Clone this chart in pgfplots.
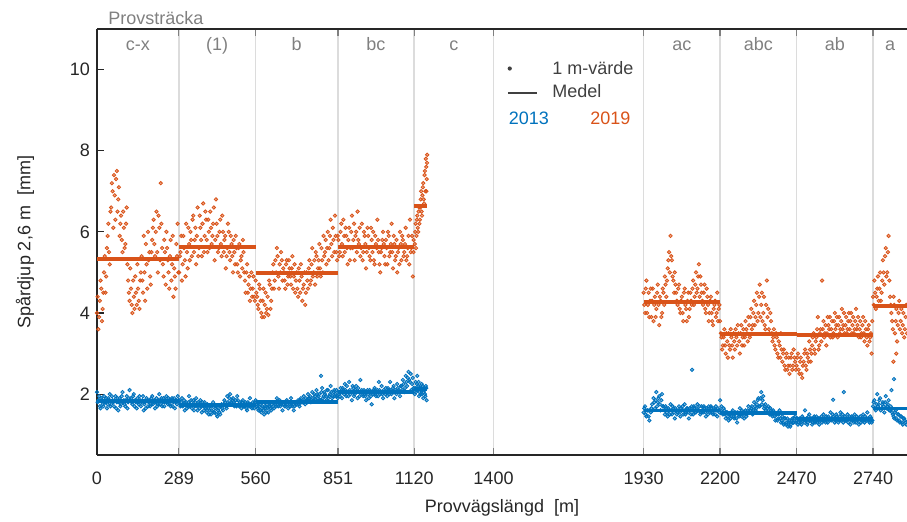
\documentclass[border=0pt]{standalone}
\usepackage{fontspec}
\setmainfont{Liberation Sans}
\usepackage{pgfplots}
\pgfplotsset{compat=1.18}
\definecolor{c13}{HTML}{0072BD}
\definecolor{c19}{HTML}{D95319}
\definecolor{axc}{HTML}{262626}
\definecolor{lab}{HTML}{808080}
\definecolor{gridc}{HTML}{DCDCDC}
\definecolor{legc}{HTML}{404040}
\pgfplotsset{
  pts19/.style={only marks, forget plot, c19, mark=*, mark size=0.85pt, mark options={draw=none, fill=c19, fill opacity=0.5}},
  pts13/.style={only marks, forget plot, c13, mark=*, mark size=0.85pt, mark options={draw=none, fill=c13, fill opacity=0.5}},
}
\begin{document}
\begin{tikzpicture}[font=\fontsize{9}{11}\selectfont]
\begin{axis}[
  scale only axis, width=405pt, height=213pt,
  xmin=0, xmax=2860, ymin=0.5, ymax=11,
  clip=false,
  axis x line=box, axis y line=left,
  axis line style={-, axc, line width=0.6pt},
  xtick={0,289,560,851,1120,1400,1930,2200,2470,2740},
  ytick={2,4,6,8,10},
  xmajorgrids, major grid style={gridc, line width=0.8pt},
  tick align=inside, major tick length=3.5pt,
  xtick style={lab, line width=0.6pt}, ytick style={axc, line width=0.6pt},
  /pgf/number format/assume math mode=true,
  /pgf/number format/1000 sep={},
  tick label style={axc, font=\fontsize{9}{11}\selectfont},
  xticklabel style={yshift=-5pt},
  xlabel={Provvägslängd\ \ [m]}, ylabel={Spårdjup 2,6 m\ \ [mm]},
  every axis x label/.style={at={(axis description cs:0.5,0)}, yshift=-26.5pt, anchor=center, axc},
  every axis y label/.style={at={(axis description cs:0,0.5)}, xshift=-36pt, rotate=90, anchor=center, axc},
  legend style={at={(axis cs:1448,10.22)}, anchor=north west, draw=none, fill=none, text=legc,
    font=\fontsize{9}{11}\selectfont, inner sep=0pt, outer sep=0pt, row sep=2pt,
    nodes={inner sep=0.5pt, text height=6.5pt, text depth=2pt},
    /tikz/every odd column/.append style={column sep=7pt}},
  legend cell align=left,
]
% 2019 one-metre values (sampled, pass 1)
\addplot[pts19] coordinates {
(0,4.0)(5,3.6)(10,4.3)(15,4.6)(20,4.1)(25,5.0)(30,4.5)(35,5.6)(40,6.2)(45,5.2)(50,6.6)(55,7.0)(60,7.4)(65,6.3)(70,7.5)(75,6.8)(80,5.9)(85,6.4)(90,5.5)(95,6.1)(100,5.7)(105,6.6)
(110,4.8)(115,4.3)(120,4.6)(125,4.0)(130,4.4)(135,4.9)(140,4.2)(145,4.6)(150,4.1)(155,5.0)(160,4.8)(165,5.9)(170,4.3)(175,5.2)(180,6.0)(185,5.5)(190,4.7)(195,5.8)(200,6.3)(205,5.4)(210,6.5)(215,5.0)(220,6.1)(225,7.2)(230,5.6)(235,4.9)(240,5.5)(245,6.0)(250,5.3)(255,4.6)(260,5.8)(265,5.2)(270,4.4)(275,4.9)(280,5.7)(285,6.2)
(290,5.0)(295,5.5)(300,4.8)(305,5.9)(310,5.3)(315,6.2)(320,5.1)(325,5.7)(330,6.0)(335,5.4)(340,6.4)(345,5.8)(350,5.2)(355,6.6)(360,5.6)(365,6.1)(370,5.4)(375,6.7)(380,5.9)(385,6.3)(390,5.5)(395,6.0)(400,6.5)(405,5.7)(410,6.2)(415,5.3)(420,6.8)(425,5.9)(430,5.6)(435,6.3)(440,5.4)(445,6.0)(450,5.8)(455,5.1)(460,5.6)(465,6.0)(470,5.3)(475,5.7)(480,5.0)(485,5.5)(490,5.9)(495,5.2)(500,5.6)(505,4.9)(510,5.4)(515,5.8)(520,5.0)(525,4.5)(530,5.2)(535,4.7)(540,4.3)(545,5.0)(550,4.6)(555,4.4)
(560,4.8)(565,4.4)(570,4.1)(575,4.6)(580,4.0)(585,4.3)(590,3.9)(595,4.5)(600,4.1)(605,3.95)(610,4.7)(615,4.3)(620,5.0)(625,4.6)(630,5.3)(635,5.6)(640,4.9)(645,5.2)(650,5.5)(655,4.8)(660,5.0)(665,4.6)(670,5.3)(675,4.9)(680,5.1)(685,4.7)(690,5.4)(695,4.9)(700,4.5)(705,5.0)(710,4.4)(715,4.8)(720,5.2)(725,4.3)(730,4.7)(735,4.2)(740,5.0)(745,4.6)(750,5.3)(755,4.8)(760,5.6)(765,5.0)(770,4.7)(775,5.4)(780,5.1)(785,5.7)(790,4.9)(795,5.3)(800,5.9)(805,5.5)(810,5.2)(815,6.0)(820,5.6)(825,6.3)(830,5.4)(835,5.8)(840,6.4)(845,5.5)(850,5.9)
(855,5.4)(860,6.0)(865,5.7)(870,6.3)(875,5.5)(880,5.9)(885,5.2)(890,6.1)(895,5.6)(900,6.4)(905,5.8)(910,5.3)(915,6.0)(920,6.5)(925,5.7)(930,5.4)(935,6.2)(940,5.5)(945,5.9)(950,5.1)(955,6.1)(960,5.6)(965,5.3)(970,5.8)(975,6.0)(980,5.2)(985,5.7)(990,6.3)(995,5.5)(1000,5.0)(1005,5.6)(1010,6.0)(1015,5.4)(1020,5.8)(1025,5.2)(1030,5.9)(1035,5.5)(1040,6.2)(1045,5.1)(1050,5.7)(1055,5.4)(1060,5.0)(1065,5.6)(1070,6.0)(1075,5.3)(1080,5.8)(1085,5.5)(1090,6.1)(1095,5.4)(1100,5.9)(1105,6.3)(1110,5.6)(1115,4.9)(1118,5.8)
(1122,5.7)(1125,6.2)(1128,5.9)(1131,6.4)(1134,6.0)(1137,6.6)(1140,6.3)(1143,6.8)(1146,6.5)(1149,6.9)(1152,7.2)(1155,6.7)(1158,7.5)(1161,7.8)(1163,7.0)(1164,7.3)(1166,7.9)
(1930,4.5)(1935,4.0)(1940,4.8)(1945,4.2)(1950,3.9)(1955,4.6)(1960,4.3)(1965,3.8)(1970,4.4)(1975,4.1)(1980,4.7)(1985,3.7)(1990,4.3)(1995,4.0)(2000,4.5)(2005,4.9)(2010,4.4)(2015,5.1)(2020,5.5)(2025,5.9)(2030,5.3)(2035,4.8)(2040,5.0)(2045,4.5)(2050,4.2)(2055,4.7)(2060,4.0)(2065,4.4)(2070,3.8)(2075,4.6)(2080,4.1)(2085,4.3)(2090,3.9)(2095,4.5)(2100,4.2)(2105,4.8)(2110,4.4)(2115,5.0)(2120,4.6)(2125,5.2)(2130,4.9)(2135,4.5)(2140,4.2)(2145,4.7)(2150,4.0)(2155,4.4)(2160,3.8)(2165,4.3)(2170,4.0)(2175,3.7)(2180,4.2)(2185,3.9)(2190,4.5)(2195,4.1)
(2200,3.8)(2205,3.4)(2210,3.2)(2215,3.6)(2220,3.0)(2225,3.3)(2230,3.5)(2235,3.1)(2240,3.4)(2245,2.9)(2250,3.3)(2255,3.6)(2260,3.2)(2265,3.5)(2270,3.0)(2275,3.7)(2280,3.4)(2285,3.2)(2290,3.8)(2295,3.5)(2300,3.9)(2305,3.4)(2310,4.1)(2315,3.7)(2320,4.3)(2325,3.9)(2330,4.5)(2335,4.0)(2340,4.7)(2345,4.2)(2350,3.8)(2355,4.4)(2360,3.6)(2365,4.8)(2370,4.1)(2375,3.5)(2380,3.8)(2385,3.3)(2390,3.6)(2395,3.1)(2400,3.4)(2405,2.9)(2410,3.2)(2415,3.5)(2420,2.8)(2425,3.1)(2430,2.6)(2435,3.0)(2440,2.7)(2445,2.5)(2450,2.9)(2455,2.6)(2460,3.1)(2465,2.8)
(2470,2.7)(2475,3.0)(2480,2.5)(2485,2.9)(2490,2.4)(2495,2.8)(2500,3.1)(2505,2.6)(2510,2.9)(2515,3.3)(2520,2.8)(2525,3.2)(2530,3.5)(2535,3.0)(2540,3.4)(2545,3.9)(2550,3.2)(2555,3.6)(2560,4.8)(2565,3.8)(2570,3.5)(2575,3.2)(2580,3.9)(2585,3.6)(2590,3.4)(2595,3.8)(2600,3.5)(2605,4.0)(2610,3.7)(2615,3.4)(2620,3.9)(2625,3.6)(2630,4.1)(2635,3.7)(2640,3.5)(2645,3.9)(2650,3.6)(2655,4.0)(2660,3.8)(2665,3.5)(2670,3.9)(2675,3.6)(2680,4.1)(2685,3.7)(2690,3.4)(2695,3.8)(2700,3.5)(2705,3.9)(2710,3.3)(2715,3.6)(2720,3.2)(2725,3.7)(2730,3.4)(2735,3.0)
(2740,4.4)(2745,4.8)(2750,4.1)(2755,4.6)(2760,4.3)(2765,5.0)(2770,4.5)(2775,5.3)(2780,4.7)(2785,5.6)(2790,5.0)(2795,5.9)(2800,4.4)(2805,4.0)(2810,3.6)(2812,2.8)(2815,4.2)(2820,3.8)(2822,3.0)(2825,3.3)(2830,4.0)(2835,3.6)(2840,4.1)(2845,3.7)(2850,3.4)(2855,3.9)(2860,3.5)
};
% 2019 one-metre values (sampled, pass 2)
\addplot[pts19] coordinates {
(2.5,4.4)(7.5,3.9)(12.5,4.8)(17.5,3.8)(22.5,4.5)(27.5,5.4)(32.5,4.9)(37.5,5.9)(42.5,5.5)(47.5,6.5)(52.5,7.2)(57.5,6.1)(62.5,6.9)(67.5,7.3)(72.5,6.5)(77.5,7.1)(82.5,6.2)(87.5,5.8)(92.5,6.5)(97.5,5.6)(102.5,6.2)(107.5,5.2)(112.5,4.5)(117.5,5.1)(122.5,4.2)(127.5,4.8)(132.5,4.1)(137.5,4.5)(142.5,5.2)(147.5,4.3)(152.5,4.8)(157.5,5.4)(162.5,4.5)(167.5,5.0)(172.5,5.7)(177.5,4.6)(182.5,5.3)(187.5,4.9)(192.5,5.5)(197.5,6.1)(202.5,5.7)(207.5,6.0)(212.5,5.5)(217.5,6.4)(222.5,5.3)(227.5,6.2)(232.5,5.2)(237.5,5.8)(242.5,4.7)(247.5,5.6)(252.5,5.0)(257.5,5.4)(262.5,4.8)(267.5,5.9)(272.5,5.1)(277.5,4.6)(282.5,5.4)(287.5,5.0)
(292.5,5.4)(297.5,5.9)(302.5,5.2)(307.5,5.6)(312.5,4.9)(317.5,5.5)(322.5,6.1)(327.5,5.3)(332.5,5.8)(337.5,6.3)(342.5,5.5)(347.5,6.1)(352.5,5.9)(357.5,5.4)(362.5,6.4)(367.5,5.8)(372.5,6.2)(377.5,5.5)(382.5,6.5)(387.5,5.8)(392.5,6.3)(397.5,5.6)(402.5,6.1)(407.5,5.9)(412.5,6.6)(417.5,5.8)(422.5,6.2)(427.5,5.5)(432.5,6.0)(437.5,5.7)(442.5,6.4)(447.5,5.5)(452.5,5.9)(457.5,5.4)(462.5,6.2)(467.5,5.5)(472.5,5.9)(477.5,5.4)(482.5,5.8)(487.5,5.2)(492.5,5.6)(497.5,5.0)(502.5,5.7)(507.5,5.3)(512.5,5.1)(517.5,5.5)(522.5,4.8)(527.5,5.0)(532.5,4.5)(537.5,4.9)(542.5,4.6)(547.5,4.4)(552.5,4.9)(557.5,4.3)
(562.5,4.5)(567.5,4.2)(572.5,4.7)(577.5,4.3)(582.5,3.9)(587.5,4.6)(592.5,4.2)(597.5,4.0)(602.5,4.4)(607.5,4.8)(612.5,4.1)(617.5,4.6)(622.5,5.2)(627.5,4.8)(632.5,5.0)(637.5,5.4)(642.5,4.6)(647.5,5.0)(652.5,5.3)(657.5,5.1)(662.5,4.8)(667.5,5.2)(672.5,4.7)(677.5,5.3)(682.5,4.9)(687.5,5.1)(692.5,4.6)(697.5,5.2)(702.5,4.8)(707.5,4.6)(712.5,5.1)(717.5,4.5)(722.5,4.9)(727.5,4.6)(732.5,5.0)(737.5,4.5)(742.5,4.8)(747.5,5.1)(752.5,4.7)(757.5,5.2)(762.5,4.9)(767.5,5.3)(772.5,5.5)(777.5,4.9)(782.5,5.3)(787.5,5.1)(792.5,5.6)(797.5,5.0)(802.5,5.4)(807.5,5.8)(812.5,5.6)(817.5,5.3)(822.5,5.9)(827.5,5.7)(832.5,6.1)(837.5,5.5)(842.5,5.9)(847.5,5.3)
(852.5,5.8)(857.5,5.5)(862.5,6.2)(867.5,5.4)(872.5,5.9)(877.5,6.1)(882.5,5.6)(887.5,5.8)(892.5,5.3)(897.5,6.0)(902.5,5.6)(907.5,6.2)(912.5,5.9)(917.5,5.5)(922.5,5.8)(927.5,6.1)(932.5,5.6)(937.5,5.3)(942.5,6.0)(947.5,5.7)(952.5,5.5)(957.5,5.9)(962.5,5.4)(967.5,6.1)(972.5,5.5)(977.5,5.3)(982.5,5.9)(987.5,5.6)(992.5,5.8)(997.5,5.2)(1002.5,5.5)(1007.5,5.8)(1012.5,5.7)(1017.5,5.2)(1022.5,5.6)(1027.5,6.0)(1032.5,5.4)(1037.5,5.7)(1042.5,5.5)(1047.5,5.9)(1052.5,5.3)(1057.5,5.8)(1062.5,5.5)(1067.5,5.2)(1072.5,5.7)(1077.5,5.9)(1082.5,5.4)(1087.5,5.7)(1092.5,5.3)(1097.5,5.6)(1102.5,5.2)(1107.5,5.5)(1112.5,5.9)(1117.5,5.5)
(1123.5,6.0)(1126.5,5.6)(1129.5,6.3)(1132.5,6.1)(1135.5,6.5)(1138.5,6.2)(1141.5,6.6)(1144.5,7.0)(1147.5,6.4)(1150.5,7.1)(1153.5,6.8)(1156.5,7.4)(1159.5,7.0)(1162.5,7.6)(1165.5,7.7)
(1932.5,4.2)(1937.5,4.6)(1942.5,4.0)(1947.5,4.5)(1952.5,4.3)(1957.5,3.9)(1962.5,4.6)(1967.5,4.2)(1972.5,3.9)(1977.5,4.5)(1982.5,4.2)(1987.5,4.4)(1992.5,3.9)(1997.5,4.6)(2002.5,4.2)(2007.5,4.7)(2012.5,4.8)(2017.5,5.3)(2022.5,5.0)(2027.5,5.4)(2032.5,4.9)(2037.5,4.5)(2042.5,4.7)(2047.5,4.3)(2052.5,4.6)(2057.5,4.1)(2062.5,4.3)(2067.5,4.0)(2072.5,4.5)(2077.5,4.2)(2082.5,3.8)(2087.5,4.5)(2092.5,4.1)(2097.5,4.3)(2102.5,4.6)(2107.5,4.2)(2112.5,4.7)(2117.5,4.5)(2122.5,4.9)(2127.5,4.4)(2132.5,4.7)(2137.5,4.3)(2142.5,4.5)(2147.5,4.1)(2152.5,4.6)(2157.5,4.2)(2162.5,4.0)(2167.5,4.4)(2172.5,3.8)(2177.5,4.1)(2182.5,4.3)(2187.5,4.0)(2192.5,3.8)(2197.5,4.2)
(2202.5,3.5)(2207.5,3.1)(2212.5,3.4)(2217.5,3.2)(2222.5,3.5)(2227.5,2.9)(2232.5,3.2)(2237.5,3.6)(2242.5,3.2)(2247.5,3.5)(2252.5,3.1)(2257.5,3.4)(2262.5,3.7)(2267.5,3.3)(2272.5,3.5)(2277.5,3.2)(2282.5,3.6)(2287.5,3.4)(2292.5,3.6)(2297.5,3.3)(2302.5,3.7)(2307.5,3.9)(2312.5,3.6)(2317.5,4.0)(2322.5,3.7)(2327.5,4.2)(2332.5,3.8)(2337.5,4.4)(2342.5,3.9)(2347.5,4.5)(2352.5,4.0)(2357.5,3.7)(2362.5,4.2)(2367.5,3.9)(2372.5,3.6)(2377.5,4.0)(2382.5,3.5)(2387.5,3.4)(2392.5,3.2)(2397.5,3.5)(2402.5,3.0)(2407.5,3.3)(2412.5,2.9)(2417.5,3.1)(2422.5,3.0)(2427.5,2.7)(2432.5,2.9)(2437.5,2.6)(2442.5,2.9)(2447.5,2.7)(2452.5,3.0)(2457.5,2.7)(2462.5,2.9)(2467.5,2.6)
(2472.5,2.9)(2477.5,2.6)(2482.5,2.8)(2487.5,2.5)(2492.5,2.7)(2497.5,3.0)(2502.5,2.7)(2507.5,3.0)(2512.5,2.8)(2517.5,3.1)(2522.5,3.0)(2527.5,3.4)(2532.5,3.1)(2537.5,3.3)(2542.5,3.6)(2547.5,3.1)(2552.5,3.5)(2557.5,3.3)(2562.5,3.6)(2567.5,3.4)(2572.5,3.7)(2577.5,3.5)(2582.5,3.7)(2587.5,3.9)(2592.5,3.6)(2597.5,3.4)(2602.5,3.8)(2607.5,3.6)(2612.5,3.9)(2617.5,3.7)(2622.5,3.5)(2627.5,3.8)(2632.5,3.6)(2637.5,4.0)(2642.5,3.7)(2647.5,3.5)(2652.5,3.8)(2657.5,3.6)(2662.5,4.0)(2667.5,3.7)(2672.5,3.5)(2677.5,3.8)(2682.5,3.6)(2687.5,3.9)(2692.5,3.6)(2697.5,3.4)(2702.5,3.7)(2707.5,3.5)(2712.5,3.8)(2717.5,3.4)(2722.5,3.6)(2727.5,3.3)(2732.5,3.5)(2737.5,3.8)
(2742.5,4.2)(2747.5,4.5)(2752.5,4.4)(2757.5,4.9)(2762.5,4.6)(2767.5,4.3)(2772.5,4.8)(2777.5,5.0)(2782.5,5.4)(2787.5,4.9)(2792.5,5.5)(2797.5,4.8)(2802.5,4.2)(2807.5,3.8)(2812.5,4.4)(2817.5,3.5)(2822.5,4.1)(2827.5,3.7)(2832.5,4.3)(2837.5,3.8)(2842.5,3.5)(2847.5,4.0)(2852.5,3.6)(2857.5,4.2)
};
% 2013 one-metre values (sampled, pass 1)
\addplot[pts13] coordinates {
(0,2.05)(5,1.85)(10,1.7)(15,1.9)(20,1.75)(25,1.95)(30,1.8)(35,1.65)(40,1.9)(45,2.0)(50,1.75)(55,1.85)(60,1.7)(65,1.95)(70,1.8)(75,1.6)(80,1.9)(85,1.75)(90,2.05)(95,1.85)(100,1.7)(105,1.95)(110,1.8)(115,2.1)(120,1.9)(125,1.75)(130,2.0)(135,1.85)(140,1.65)(145,1.8)(150,1.95)(155,1.7)(160,1.85)(165,1.6)(170,1.8)(175,1.9)(180,1.7)(185,1.85)(190,1.75)(195,1.95)(200,1.8)(205,1.65)(210,1.9)(215,1.75)(220,2.0)(225,1.85)(230,1.7)(235,1.9)(240,1.8)(245,1.95)(250,1.75)(255,1.85)(260,1.7)(265,1.9)(270,1.8)(275,1.65)(280,1.85)(285,1.95)
(290,1.85)(295,1.7)(300,1.9)(305,1.75)(310,1.6)(315,1.8)(320,1.7)(325,1.95)(330,1.75)(335,1.65)(340,1.85)(345,1.7)(350,1.9)(355,1.6)(360,1.75)(365,1.85)(370,1.55)(375,1.7)(380,1.8)(385,1.65)(390,1.75)(395,1.5)(400,1.7)(405,1.6)(410,1.8)(415,1.55)(420,1.7)(425,1.45)(430,1.65)(435,1.5)(440,1.75)(445,1.6)(450,1.85)(455,1.7)(460,1.95)(465,1.75)(470,2.0)(475,1.8)(480,1.9)(485,1.7)(490,1.85)(495,1.95)(500,1.75)(505,1.8)(510,1.65)(515,1.85)(520,1.7)(525,1.8)(530,1.6)(535,1.75)(540,1.9)(545,1.7)(550,1.8)(555,1.65)
(560,1.85)(565,1.7)(570,1.6)(575,1.75)(580,1.55)(585,1.7)(590,1.5)(595,1.65)(600,1.75)(605,1.55)(610,1.7)(615,1.6)(620,1.8)(625,1.65)(630,1.75)(635,1.9)(640,1.7)(645,1.85)(650,1.75)(655,1.6)(660,1.8)(665,1.7)(670,1.85)(675,1.65)(680,1.75)(685,1.9)(690,1.7)(695,1.6)(700,1.8)(705,1.75)(710,1.85)(715,1.7)(720,1.9)(725,1.8)(730,1.95)(735,1.75)(740,1.85)(745,2.0)(750,1.9)(755,1.8)(760,2.05)(765,1.85)(770,1.95)(775,2.1)(780,1.9)(785,2.0)(790,1.85)(791,2.45)(795,2.15)(800,1.95)(805,2.0)(810,1.85)(815,2.1)(820,1.95)(825,2.2)(830,1.9)(835,2.05)(840,1.95)(845,2.1)(850,1.9)
(855,2.0)(860,2.15)(865,1.9)(870,2.1)(875,2.25)(880,1.95)(885,2.05)(890,2.3)(895,2.0)(900,1.85)(905,2.15)(910,2.0)(915,2.2)(920,1.9)(925,2.05)(930,2.35)(935,2.1)(940,1.95)(945,2.0)(950,1.85)(955,2.1)(960,1.9)(965,2.05)(970,1.75)(975,2.0)(980,2.15)(985,1.95)(990,2.1)(995,2.3)(1000,2.0)(1005,2.2)(1010,1.9)(1015,2.05)(1020,2.15)(1025,1.95)(1030,2.1)(1035,2.3)(1040,2.0)(1045,2.15)(1050,1.9)(1055,2.05)(1060,2.25)(1065,2.1)(1070,1.95)(1075,2.2)(1080,2.35)(1085,2.05)(1090,2.45)(1095,2.2)(1100,2.55)(1105,2.3)(1110,2.1)(1115,2.4)
(1122,2.0)(1125,2.3)(1128,2.1)(1131,2.45)(1134,2.2)(1137,1.95)(1140,2.15)(1143,2.0)(1146,2.25)(1149,2.1)(1152,1.9)(1155,2.15)(1158,2.0)(1161,2.2)(1164,1.85)
(1930,1.55)(1935,1.7)(1940,1.45)(1945,1.6)(1950,1.35)(1955,1.55)(1960,1.75)(1965,1.9)(1970,1.65)(1975,2.05)(1980,1.8)(1985,1.95)(1990,1.6)(1995,2.0)(2000,1.7)(2005,1.5)(2010,1.65)(2015,1.45)(2020,1.6)(2025,1.75)(2030,1.5)(2035,1.65)(2040,1.4)(2045,1.6)(2050,1.55)(2055,1.7)(2060,1.45)(2065,1.6)(2070,1.5)(2075,1.75)(2080,1.55)(2085,1.65)(2090,1.4)(2095,1.6)(2100,1.7)(2101,2.6)(2105,1.5)(2110,1.65)(2115,1.55)(2120,1.75)(2125,1.6)(2130,1.5)(2135,1.7)(2140,1.55)(2145,1.65)(2150,1.45)(2155,1.6)(2160,1.7)(2165,1.55)(2170,1.65)(2175,1.5)(2180,1.6)(2185,1.7)(2190,1.45)(2195,1.6)
(2200,1.85)(2205,1.7)(2210,1.5)(2215,1.6)(2220,1.4)(2225,1.55)(2230,1.35)(2235,1.5)(2240,1.45)(2245,1.6)(2250,1.4)(2255,1.55)(2260,1.3)(2265,1.5)(2270,1.65)(2275,1.45)(2280,1.55)(2285,1.4)(2290,1.6)(2295,1.5)(2300,1.7)(2305,1.55)(2310,1.65)(2315,1.5)(2320,1.8)(2325,1.6)(2330,1.75)(2335,1.9)(2340,1.7)(2345,2.05)(2350,1.85)(2355,1.65)(2360,1.75)(2365,1.55)(2370,1.7)(2375,1.5)(2380,1.6)(2385,1.45)(2390,1.55)(2395,1.35)(2400,1.5)(2405,1.4)(2410,1.6)(2415,1.3)(2420,1.45)(2425,1.25)(2430,1.4)(2435,1.3)(2440,1.2)(2445,1.35)(2450,1.25)(2455,1.4)(2460,1.3)(2465,1.45)
(2470,1.35)(2475,1.25)(2480,1.4)(2485,1.3)(2490,1.45)(2495,1.35)(2500,1.6)(2505,1.4)(2510,1.3)(2515,1.5)(2520,1.35)(2525,1.25)(2530,1.4)(2535,1.3)(2540,1.45)(2545,1.35)(2550,1.25)(2555,1.4)(2560,1.3)(2565,1.5)(2570,1.35)(2575,1.45)(2580,1.3)(2585,1.4)(2590,1.55)(2595,1.35)(2599,1.86)(2600,1.45)(2605,1.3)(2610,1.5)(2615,1.4)(2620,1.35)(2625,1.55)(2630,1.4)(2635,1.3)(2637,2.05)(2640,1.45)(2645,1.35)(2650,1.5)(2655,1.4)(2660,1.25)(2665,1.45)(2670,1.35)(2675,1.5)(2680,1.3)(2685,1.4)(2690,1.25)(2695,1.45)(2700,1.35)(2705,1.5)(2710,1.3)(2715,1.4)(2720,1.55)(2725,1.35)(2730,1.45)(2735,1.3)
(2740,1.7)(2745,1.85)(2750,1.6)(2755,2.0)(2760,1.75)(2765,1.9)(2770,1.65)(2775,1.8)(2780,1.55)(2785,1.95)(2790,1.7)(2795,1.85)(2800,1.6)(2805,2.1)(2810,1.5)(2814,2.37)(2815,1.4)(2820,1.6)(2825,1.35)(2830,1.5)(2835,1.3)(2840,1.45)(2845,1.25)(2850,1.4)(2855,1.3)
};
% 2013 one-metre values (sampled, pass 2)
\addplot[pts13] coordinates {
(2.5,1.8)(7.5,1.95)(12.5,1.65)(17.5,1.85)(22.5,1.7)(27.5,1.8)(32.5,1.9)(37.5,1.75)(42.5,1.85)(47.5,1.7)(52.5,1.95)(57.5,1.8)(62.5,1.85)(67.5,1.65)(72.5,1.9)(77.5,1.8)(82.5,1.7)(87.5,1.95)(92.5,1.8)(97.5,1.75)(102.5,1.85)(107.5,1.65)(112.5,1.9)(117.5,1.85)(122.5,1.8)(127.5,1.95)(132.5,1.7)(137.5,1.8)(142.5,1.9)(147.5,1.75)(152.5,1.85)(157.5,1.8)(162.5,1.95)(167.5,1.75)(172.5,1.65)(177.5,1.85)(182.5,1.8)(187.5,1.7)(192.5,1.9)(197.5,1.75)(202.5,1.85)(207.5,1.8)(212.5,1.7)(217.5,1.85)(222.5,1.75)(227.5,1.9)(232.5,1.8)(237.5,1.7)(242.5,1.85)(247.5,1.8)(252.5,1.9)(257.5,1.75)(262.5,1.85)(267.5,1.7)(272.5,1.9)(277.5,1.8)(282.5,1.75)(287.5,1.85)
(292.5,1.75)(297.5,1.8)(302.5,1.7)(307.5,1.85)(312.5,1.75)(317.5,1.65)(322.5,1.8)(327.5,1.7)(332.5,1.85)(337.5,1.75)(342.5,1.6)(347.5,1.8)(352.5,1.7)(357.5,1.8)(362.5,1.65)(367.5,1.7)(372.5,1.8)(377.5,1.6)(382.5,1.7)(387.5,1.55)(392.5,1.65)(397.5,1.6)(402.5,1.5)(407.5,1.7)(412.5,1.55)(417.5,1.65)(422.5,1.5)(427.5,1.6)(432.5,1.55)(437.5,1.7)(442.5,1.65)(447.5,1.75)(452.5,1.8)(457.5,1.65)(462.5,1.8)(467.5,1.9)(472.5,1.75)(477.5,1.85)(482.5,1.8)(487.5,1.75)(492.5,1.7)(497.5,1.85)(502.5,1.7)(507.5,1.75)(512.5,1.8)(517.5,1.7)(522.5,1.75)(527.5,1.65)(532.5,1.8)(537.5,1.7)(542.5,1.75)(547.5,1.65)(552.5,1.75)(557.5,1.8)
(562.5,1.75)(567.5,1.65)(572.5,1.7)(577.5,1.6)(582.5,1.65)(587.5,1.6)(592.5,1.7)(597.5,1.55)(602.5,1.65)(607.5,1.7)(612.5,1.65)(617.5,1.75)(622.5,1.7)(627.5,1.8)(632.5,1.7)(637.5,1.75)(642.5,1.8)(647.5,1.7)(652.5,1.8)(657.5,1.75)(662.5,1.7)(667.5,1.8)(672.5,1.75)(677.5,1.8)(682.5,1.7)(687.5,1.8)(692.5,1.75)(697.5,1.7)(702.5,1.75)(707.5,1.8)(712.5,1.75)(717.5,1.85)(722.5,1.8)(727.5,1.85)(732.5,1.8)(737.5,1.9)(742.5,1.8)(747.5,1.9)(752.5,1.95)(757.5,1.85)(762.5,1.9)(767.5,2.0)(772.5,1.85)(777.5,2.0)(782.5,1.95)(787.5,1.85)(792.5,2.05)(797.5,1.9)(802.5,2.05)(807.5,1.95)(812.5,2.1)(817.5,1.9)(822.5,2.0)(827.5,2.05)(832.5,1.95)(837.5,2.1)(842.5,2.0)(847.5,1.95)
(852.5,2.05)(857.5,1.95)(862.5,2.05)(867.5,2.15)(872.5,2.0)(877.5,2.1)(882.5,2.2)(887.5,1.95)(892.5,2.1)(897.5,2.05)(902.5,2.2)(907.5,1.95)(912.5,2.1)(917.5,2.05)(922.5,2.15)(927.5,1.95)(932.5,2.05)(937.5,2.0)(942.5,2.1)(947.5,1.95)(952.5,2.05)(957.5,2.0)(962.5,2.1)(967.5,1.95)(972.5,2.05)(977.5,2.1)(982.5,2.0)(987.5,2.05)(992.5,1.95)(997.5,2.1)(1002.5,2.05)(1007.5,2.0)(1012.5,2.1)(1017.5,2.0)(1022.5,2.05)(1027.5,2.15)(1032.5,2.0)(1037.5,2.1)(1042.5,2.05)(1047.5,2.2)(1052.5,2.1)(1057.5,2.0)(1062.5,2.15)(1067.5,2.05)(1072.5,2.2)(1077.5,2.1)(1082.5,2.25)(1087.5,2.15)(1092.5,2.3)(1097.5,2.4)(1102.5,2.35)(1107.5,2.5)(1112.5,2.25)(1117.5,2.15)
(1123.5,2.15)(1126.5,2.05)(1129.5,2.25)(1132.5,2.1)(1135.5,2.3)(1138.5,2.05)(1141.5,2.2)(1144.5,2.1)(1147.5,2.0)(1150.5,2.2)(1153.5,2.05)(1156.5,2.1)(1159.5,1.95)(1162.5,2.15)
(1932.5,1.65)(1937.5,1.5)(1942.5,1.6)(1947.5,1.45)(1952.5,1.6)(1957.5,1.65)(1962.5,1.6)(1967.5,1.8)(1972.5,1.85)(1977.5,1.7)(1982.5,1.9)(1987.5,1.75)(1992.5,1.85)(1997.5,1.7)(2002.5,1.6)(2007.5,1.7)(2012.5,1.55)(2017.5,1.65)(2022.5,1.5)(2027.5,1.6)(2032.5,1.7)(2037.5,1.55)(2042.5,1.65)(2047.5,1.5)(2052.5,1.6)(2057.5,1.55)(2062.5,1.65)(2067.5,1.7)(2072.5,1.6)(2077.5,1.5)(2082.5,1.65)(2087.5,1.55)(2092.5,1.65)(2097.5,1.5)(2102.5,1.6)(2107.5,1.7)(2112.5,1.55)(2117.5,1.65)(2122.5,1.6)(2127.5,1.7)(2132.5,1.55)(2137.5,1.6)(2142.5,1.7)(2147.5,1.55)(2152.5,1.65)(2157.5,1.5)(2162.5,1.6)(2167.5,1.7)(2172.5,1.55)(2177.5,1.65)(2182.5,1.5)(2187.5,1.6)(2192.5,1.65)(2197.5,1.55)
(2202.5,1.6)(2207.5,1.55)(2212.5,1.65)(2217.5,1.5)(2222.5,1.55)(2227.5,1.45)(2232.5,1.5)(2237.5,1.4)(2242.5,1.55)(2247.5,1.45)(2252.5,1.5)(2257.5,1.4)(2262.5,1.55)(2267.5,1.45)(2272.5,1.5)(2277.5,1.6)(2282.5,1.5)(2287.5,1.55)(2292.5,1.45)(2297.5,1.6)(2302.5,1.55)(2307.5,1.6)(2312.5,1.7)(2317.5,1.6)(2322.5,1.7)(2327.5,1.65)(2332.5,1.85)(2337.5,1.7)(2342.5,1.9)(2347.5,1.75)(2352.5,1.95)(2357.5,1.7)(2362.5,1.6)(2367.5,1.65)(2372.5,1.55)(2377.5,1.65)(2382.5,1.5)(2387.5,1.6)(2392.5,1.45)(2397.5,1.5)(2402.5,1.35)(2407.5,1.5)(2412.5,1.4)(2417.5,1.35)(2422.5,1.3)(2427.5,1.4)(2432.5,1.25)(2437.5,1.4)(2442.5,1.3)(2447.5,1.2)(2452.5,1.35)(2457.5,1.3)(2462.5,1.4)(2467.5,1.3)
(2472.5,1.4)(2477.5,1.3)(2482.5,1.35)(2487.5,1.25)(2492.5,1.4)(2497.5,1.3)(2502.5,1.35)(2507.5,1.25)(2512.5,1.45)(2517.5,1.35)(2522.5,1.4)(2527.5,1.3)(2532.5,1.45)(2537.5,1.35)(2542.5,1.3)(2547.5,1.4)(2552.5,1.35)(2557.5,1.45)(2562.5,1.35)(2567.5,1.4)(2572.5,1.3)(2577.5,1.4)(2582.5,1.45)(2587.5,1.35)(2592.5,1.4)(2597.5,1.5)(2602.5,1.4)(2607.5,1.35)(2612.5,1.45)(2617.5,1.3)(2622.5,1.45)(2627.5,1.35)(2632.5,1.5)(2637.5,1.4)(2642.5,1.35)(2647.5,1.4)(2652.5,1.3)(2657.5,1.45)(2662.5,1.35)(2667.5,1.4)(2672.5,1.3)(2677.5,1.4)(2682.5,1.45)(2687.5,1.35)(2692.5,1.4)(2697.5,1.3)(2702.5,1.4)(2707.5,1.35)(2712.5,1.45)(2717.5,1.35)(2722.5,1.4)(2727.5,1.3)(2732.5,1.4)(2737.5,1.35)
(2742.5,1.8)(2747.5,1.65)(2752.5,1.75)(2757.5,1.7)(2762.5,1.85)(2767.5,1.6)(2772.5,1.75)(2777.5,1.7)(2782.5,1.8)(2787.5,1.65)(2792.5,1.75)(2797.5,1.6)(2802.5,1.7)(2807.5,1.55)(2812.5,1.45)(2817.5,1.55)(2822.5,1.4)(2827.5,1.5)(2832.5,1.35)(2837.5,1.45)(2842.5,1.3)(2847.5,1.4)(2852.5,1.35)(2857.5,1.25)
};
% means
\addplot[forget plot, c19, line width=1.8pt, unbounded coords=jump] coordinates {
(0,5.33)(289,5.33)(289,nan)(289,5.63)(560,5.63)(560,nan)(560,4.99)(851,4.99)(851,nan)(851,5.63)(1120,5.63)(1120,nan)(1120,6.64)(1166,6.64)(1166,nan)
(1930,4.27)(2200,4.27)(2200,nan)(2200,3.48)(2470,3.48)(2470,nan)(2470,3.46)(2740,3.46)(2740,nan)(2740,4.17)(2860,4.17)
};
\addplot[forget plot, c13, line width=1.8pt, unbounded coords=jump] coordinates {
(0,1.83)(289,1.83)(289,nan)(289,1.73)(560,1.73)(560,nan)(560,1.80)(851,1.80)(851,nan)(851,2.05)(1120,2.05)(1120,nan)(1120,2.12)(1166,2.12)(1166,nan)
(1930,1.60)(2200,1.60)(2200,nan)(2200,1.53)(2470,1.53)(2470,nan)(2470,1.38)(2740,1.38)(2740,nan)(2740,1.65)(2860,1.65)
};
% legend
\addlegendimage{legend image code/.code={\path[draw=none, fill=none] (0pt,0pt) -- (14.5pt,0pt); \fill[legc, draw=none] (1pt,0.8pt) circle (1.05pt);}}
\addlegendentry{1 m-värde}
\addlegendimage{legend image code/.code={\draw[legc, line width=0.65pt] (0pt,0pt) -- (14.5pt,0pt);}}
\addlegendentry{Medel}
\node[c13, anchor=base] at (axis cs:1525,8.64) {2013};
\node[c19, anchor=base] at (axis cs:1813,8.64) {2019};
% section labels
\node[lab, anchor=base] at (axis cs:144,10.48) {c-x};
\node[lab, anchor=base] at (axis cs:424,10.48) {(1)};
\node[lab, anchor=base] at (axis cs:705,10.48) {b};
\node[lab, anchor=base] at (axis cs:985,10.48) {bc};
\node[lab, anchor=base] at (axis cs:1260,10.48) {c};
\node[lab, anchor=base] at (axis cs:2065,10.48) {ac};
\node[lab, anchor=base] at (axis cs:2335,10.48) {abc};
\node[lab, anchor=base] at (axis cs:2605,10.48) {ab};
\node[lab, anchor=base] at (axis cs:2800,10.48) {a};
\node[lab, anchor=base west, inner sep=0pt] at (axis cs:39,11.11) {Provsträcka};
\end{axis}
\pgfresetboundingbox
\path (current axis.south west) ++(-48.5pt,-33.5pt) rectangle ([yshift=14.5pt]current axis.north east);
\end{tikzpicture}
\end{document}
